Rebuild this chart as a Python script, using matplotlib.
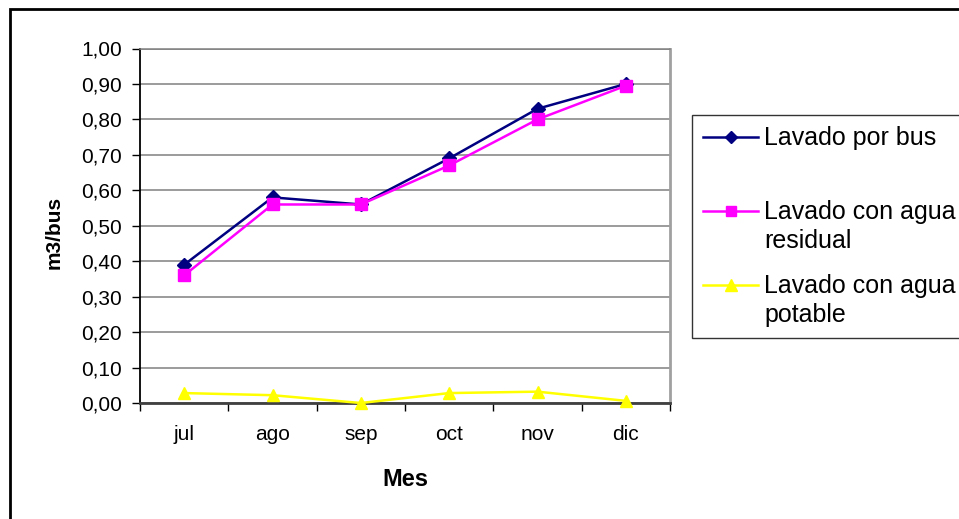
"""Consumo de agua en lavado de buses, jul-dic (m3/bus)."""
import matplotlib
matplotlib.use("Agg")
import matplotlib.pyplot as plt
from matplotlib.legend_handler import HandlerLine2D
from matplotlib.patches import Rectangle
from matplotlib.ticker import FixedLocator, FuncFormatter

plt.rcParams["font.family"] = ["Liberation Sans", "DejaVu Sans"]

meses = ["jul", "ago", "sep", "oct", "nov", "dic"]
lavado_bus = [0.39, 0.58, 0.56, 0.69, 0.83, 0.90]
agua_residual = [0.36, 0.56, 0.56, 0.67, 0.80, 0.895]
agua_potable = [0.028, 0.022, 0.0, 0.028, 0.032, 0.006]

# every label is two lines so legend slots are evenly spaced (as in Excel)
series = [
    ("Lavado por bus\n ", lavado_bus, "#000080", "D", 7),
    ("Lavado con agua\nresidual", agua_residual, "#FF00FF", "s", 8),
    ("Lavado con agua\npotable", agua_potable, "#FFFF00", "^", 9),
]


class FirstLineHandler(HandlerLine2D):
    """Put the legend handle next to the first text line, not the middle."""

    def create_artists(self, legend, orig_handle, xdescent, ydescent,
                       width, height, fontsize, trans):
        arts = super().create_artists(legend, orig_handle, xdescent, ydescent,
                                      width, height, fontsize, trans)
        for a in arts:
            a.set_ydata([y + 0.64 * fontsize for y in a.get_ydata()])
        return arts


W, H = 959, 519
fig = plt.figure(figsize=(W / 100, H / 100), dpi=100)
ax = fig.add_axes([140 / W, 1 - 403 / H, 530 / W, (403 - 48.5) / H])

x = list(range(len(meses)))
for label, vals, color, marker, ms in series:
    ax.plot(x, vals, color=color, marker=marker, markersize=ms, linewidth=1.8,
            markeredgecolor=color, label=label, zorder=3, clip_on=False)

ax.set_xlim(-0.5, len(meses) - 0.5)
ax.set_ylim(0, 1.0)
ax.set_yticks([i / 10 for i in range(11)])
ax.yaxis.set_major_formatter(FuncFormatter(lambda v, _: f"{v:.2f}".replace(".", ",")))
ax.tick_params(axis="y", direction="out", length=6, width=1, pad=7, labelsize=15)

# category ticks on boundaries, labels centred
ax.xaxis.set_major_locator(FixedLocator([i - 0.5 for i in range(len(meses) + 1)]))
ax.xaxis.set_minor_locator(FixedLocator(x))
ax.set_xticklabels([], minor=False)
ax.set_xticklabels(meses, minor=True)
ax.tick_params(axis="x", which="major", direction="out", length=6, width=1)
ax.tick_params(axis="x", which="minor", length=0, pad=16, labelsize=15)

ax.grid(axis="y", color="#808080", linewidth=1.1, zorder=0)
ax.set_axisbelow(True)
ax.spines["left"].set_color("black")
ax.spines["left"].set_linewidth(1.3)
ax.spines["bottom"].set_color("#404040")
ax.spines["bottom"].set_linewidth(2)
ax.spines["right"].set_color("#A0A0A0")
ax.spines["right"].set_linewidth(2)
ax.spines["top"].set_color("#808080")
ax.spines["top"].set_linewidth(1.1)

ax.set_xlabel("Mes", fontsize=17, fontweight="bold", labelpad=17)
ax.set_ylabel("m3/bus", fontsize=15, fontweight="bold")
ax.yaxis.set_label_coords(-0.145, 0.48)

leg = fig.legend(loc="upper left", bbox_to_anchor=(692 / W, 1 - 115 / H),
                 borderaxespad=0, fontsize=18, frameon=True, fancybox=False,
                 edgecolor="black", handlelength=2.2, handletextpad=0.25,
                 borderpad=0.45, labelspacing=0.85, markerscale=0.9,
                 handler_map={matplotlib.lines.Line2D: FirstLineHandler()})
leg.get_frame().set_linewidth(1)
for t in leg.get_texts():
    t.set_linespacing(1.25)

# outer chart frame
fig.patches.append(Rectangle((10 / W, -0.1), 1.2, 1.1 - 9 / H, transform=fig.transFigure,
                             fill=False, edgecolor="black", linewidth=2))

fig.savefig("out.png", dpi=100)
